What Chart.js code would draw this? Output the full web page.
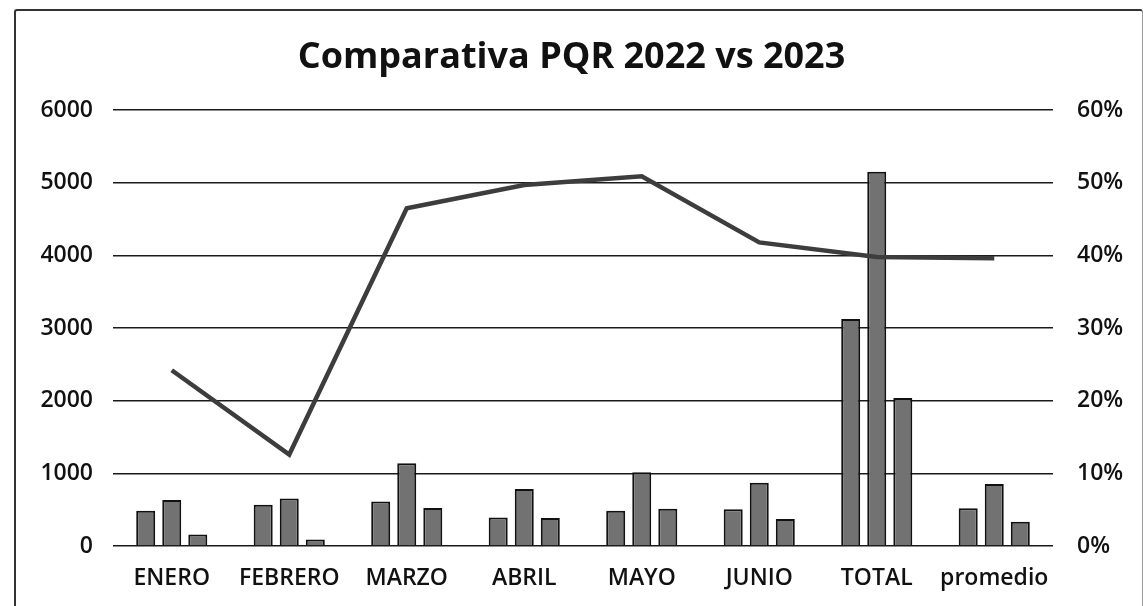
<!DOCTYPE html>
<html>
<head>
<meta charset="utf-8">
<script src="https://cdn.jsdelivr.net/npm/chart.js@4.4.1/dist/chart.umd.min.js"></script>
<style>
  html, body { margin: 0; padding: 0; background: #fff; }
  #wrap { position: relative; width: 1143px; height: 606px; }
  #frame {
    position: absolute; left: 14px; top: 9px; width: 1126px; height: 620px;
    border-left: 2px solid #333; border-top: 2px solid #333; border-right: 1px solid #999;
    border-radius: 3px 3px 0 0; pointer-events: none;
  }
  canvas { position: absolute; left: 0; top: 0; }
</style>
</head>
<body>
<div id="wrap">
  <canvas id="chart" width="1143" height="606"></canvas>
  <div id="frame"></div>
</div>
<script>
// Comparativa PQR: three grey bar series per month plus a percentage line on the right axis.
var categories = ['ENERO', 'FEBRERO', 'MARZO', 'ABRIL', 'MAYO', 'JUNIO', 'TOTAL', 'promedio'];
var serie2022 = [486, 569, 611, 393, 486, 505, 3125, 519];
var serie2023 = [635, 653, 1139, 784, 1014, 871, 5153, 855];
var serieDif = [158, 89, 524, 385, 513, 371, 2036, 335];
var porcentaje = [24.2, 12.6, 46.5, 49.7, 50.9, 41.8, 39.8, 39.6];
var leftTicks = [0, 1000, 2000, 3000, 4000, 5000, 6000];
var rightTicks = [0, 10, 20, 30, 40, 50, 60];

var FONT = "'Open Sans', 'DejaVu Sans', sans-serif";

function barSet(label, data) {
  return {
    type: 'bar',
    label: label,
    data: data,
    yAxisID: 'y',
    backgroundColor: '#727272',
    borderColor: '#111',
    borderWidth: 2,
    categoryPercentage: 0.665,
    barPercentage: 0.73,
    order: 1
  };
}

new Chart(document.getElementById('chart'), {
  data: {
    labels: categories,
    datasets: [
      {
        type: 'line',
        label: '%',
        data: porcentaje,
        yAxisID: 'y1',
        borderColor: '#3d3d3d',
        borderWidth: 4.5,
        pointRadius: 0,
        tension: 0,
        fill: false,
        order: 0
      },
      barSet('2022', serie2022),
      barSet('2023', serie2023),
      barSet('Diferencia', serieDif)
    ]
  },
  options: {
    responsive: false,
    animation: false,
    layout: { padding: { top: 0, left: 0, right: 0, bottom: 0 } },
    plugins: {
      legend: { display: false },
      tooltip: { enabled: false },
      title: {
        display: true,
        text: 'Comparativa PQR 2022 vs 2023',
        color: '#111',
        font: { family: FONT, size: 36, weight: 'bold' },
        padding: { top: 36, bottom: 31 }
      }
    },
    scales: {
      x: {
        grid: { display: false, drawTicks: false },
        border: { display: false },
        ticks: {
          color: '#111',
          font: { family: FONT, size: 23, weight: 600 },
          padding: 19,
          maxRotation: 0,
          autoSkip: false
        },
        afterFit: function (s) { s.height = 60; }
      },
      y: {
        position: 'left',
        min: 0,
        max: 6000,
        afterBuildTicks: function (s) { s.ticks = leftTicks.map(function (v) { return { value: v }; }); },
        grid: { color: '#1a1a1a', lineWidth: 1.5, drawTicks: false },
        border: { display: false },
        ticks: {
          color: '#111',
          font: { family: FONT, size: 23, weight: 600 },
          padding: 20,
          callback: function (v) { return String(v); }
        },
        afterFit: function (s) { s.width = 113; }
      },
      y1: {
        position: 'right',
        min: 0,
        max: 60,
        afterBuildTicks: function (s) { s.ticks = rightTicks.map(function (v) { return { value: v }; }); },
        grid: { display: false, drawTicks: false },
        border: { display: false },
        ticks: {
          color: '#111',
          font: { family: FONT, size: 23, weight: 600 },
          padding: 24,
          callback: function (v) { return v + '%'; }
        },
        afterFit: function (s) { s.width = 90; }
      }
    }
  }
});
</script>
</body>
</html>
